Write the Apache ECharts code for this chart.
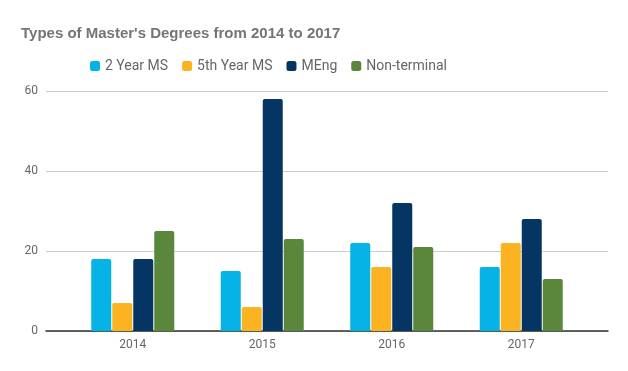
<!DOCTYPE html>
<html><head><meta charset="utf-8">
<script src="https://cdn.jsdelivr.net/npm/echarts@6/dist/echarts.min.js"></script>
<style>html,body{margin:0;padding:0;background:#fff}#c{width:628px;height:371px}</style>
</head><body><div id="c"></div>
<script>
const categories = ['2014', '2015', '2016', '2017'];
const seriesNames = ['2 Year MS', '5th Year MS', 'MEng', 'Non-terminal'];
const twoYearMS = [18, 15, 22, 16];
const fifthYearMS = [7, 6, 16, 22];
const mEng = [18, 58, 32, 28];
const nonTerminal = [25, 23, 21, 13];
const yTicks = [0, 20, 40, 60];
const colors = ['#06b3e6', '#fcb322', '#053562', '#5a873b'];

const values = [twoYearMS, fifthYearMS, mEng, nonTerminal];
const font = 'Roboto, "Liberation Sans", sans-serif';
const chart = echarts.init(document.getElementById('c'));
chart.setOption({
  animation: false,
  textStyle: { fontFamily: font },
  title: {
    text: "Types of Master's Degrees from 2014 to 2017",
    left: 16, top: 21,
    textStyle: { fontSize: 15, fontWeight: 'bold', color: '#757575', fontFamily: '"Liberation Sans", Arial, sans-serif' }
  },
  legend: {
    data: seriesNames,
    top: 54, left: 85,
    itemWidth: 10, itemHeight: 10, itemGap: 14,
    icon: 'roundRect',
    textStyle: { fontSize: 14, color: '#666', fontFamily: font }
  },
  grid: [
    { left: 46, right: 20, top: 91, bottom: 40 },
    { left: 68, right: 42, top: 91, bottom: 40 }
  ],
  xAxis: [
    { type: 'category', gridIndex: 0, data: [''], axisTick: { show: false }, axisLabel: { show: false },
      axisLine: { lineStyle: { color: '#333', width: 1.5 } } },
    { type: 'category', gridIndex: 1, data: categories, axisTick: { show: false }, axisLine: { show: false },
      axisLabel: { fontSize: 12, color: '#666', margin: 8 } }
  ],
  yAxis: [
    { type: 'value', gridIndex: 0, min: yTicks[0], max: yTicks[yTicks.length - 1], interval: 20,
      axisLabel: { fontSize: 12, color: '#666', margin: 8 },
      splitLine: { lineStyle: { color: '#ccc' } }, axisLine: { show: false }, axisTick: { show: false } },
    { type: 'value', gridIndex: 1, min: yTicks[0], max: yTicks[yTicks.length - 1], interval: 20, show: false,
      splitLine: { show: false } }
  ],
  series: seriesNames.map((n, i) => ({
    name: n, type: 'bar', xAxisIndex: 1, yAxisIndex: 1, data: values[i],
    barWidth: 20, barGap: '5%', z: 3,
    itemStyle: { color: colors[i], borderRadius: [2, 2, 0, 0] }
  }))
});
</script></body></html>
